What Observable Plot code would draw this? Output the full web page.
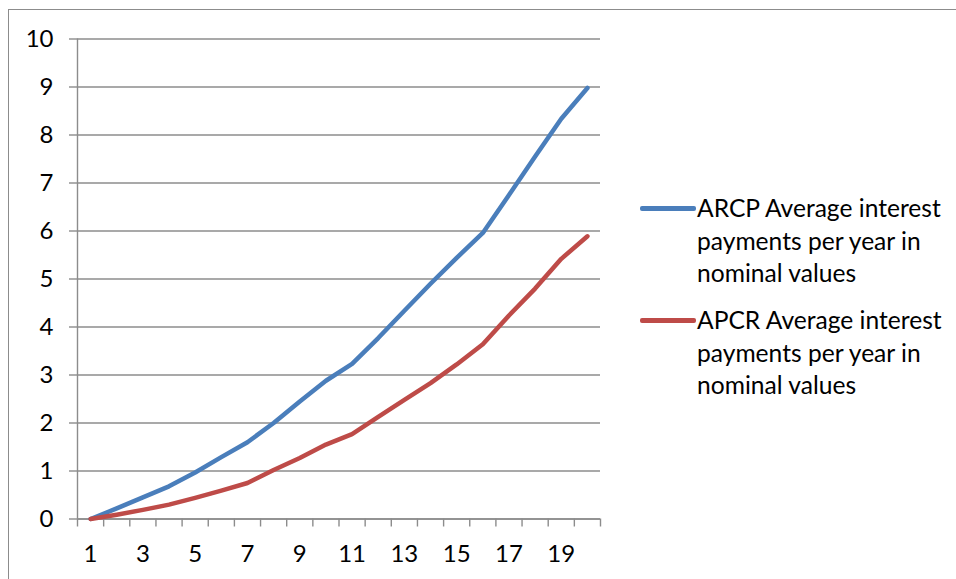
<!DOCTYPE html>
<html>
<head>
<meta charset="utf-8">
<script src="https://cdn.jsdelivr.net/npm/d3@7"></script>
<script src="https://cdn.jsdelivr.net/npm/@observablehq/plot@0.6"></script>
<style>
  html, body { margin: 0; padding: 0; background: #fff; }
  #wrap { position: relative; width: 956px; height: 579px; overflow: hidden; font-family: Lato, "Open Sans", sans-serif; }
  #frame { position: absolute; left: 8px; top: 9px; width: 1200px; height: 800px; border: 1.5px solid #8c8c8c; box-sizing: border-box; }
  #chart { position: absolute; left: 0; top: 0; }
  #legend { position: absolute; left: 640px; top: 0; font-size: 24.6px; color: #000; }
  .item { position: absolute; left: 0; width: 320px; }
  .swatch { position: absolute; left: 0; width: 56px; height: 4.5px; border-radius: 2px; }
  .label { position: absolute; left: 57px; line-height: 32.5px; white-space: nowrap; }
</style>
</head>
<body>
<div id="wrap">
  <div id="frame"></div>
  <div id="chart"></div>
  <div id="legend"></div>
</div>
<script>
// Year of the loan (category axis)
const years = [1, 2, 3, 4, 5, 6, 7, 8, 9, 10, 11, 12, 13, 14, 15, 16, 17, 18, 19, 20];
// Average interest payments per year in nominal values
const arcp = [0, 0.22, 0.45, 0.68, 0.97, 1.29, 1.6, 2.0, 2.45, 2.88, 3.23, 3.77, 4.34, 4.9, 5.44, 5.96, 6.75, 7.55, 8.34, 8.98];
const apcr = [0, 0.09, 0.19, 0.3, 0.44, 0.59, 0.75, 1.02, 1.27, 1.55, 1.77, 2.13, 2.48, 2.83, 3.22, 3.64, 4.24, 4.8, 5.42, 5.89];
const seriesNames = [
  "ARCP Average interest payments per year in nominal values",
  "APCR Average interest payments per year in nominal values"
];
const seriesColors = ["#4a7ebb", "#be4b48"];
const xTickLabels = [1, 3, 5, 7, 9, 11, 13, 15, 17, 19];
const yTicks = [0, 1, 2, 3, 4, 5, 6, 7, 8, 9, 10];
// category boundaries for the x tick marks
const xBoundaries = [0.5, 1.5, 2.5, 3.5, 4.5, 5.5, 6.5, 7.5, 8.5, 9.5, 10.5, 11.5, 12.5, 13.5, 14.5, 15.5, 16.5, 17.5, 18.5, 19.5, 20.5];

const rows = [];
years.forEach((y, i) => {
  rows.push({year: y, value: arcp[i], series: seriesNames[0]});
  rows.push({year: y, value: apcr[i], series: seriesNames[1]});
});

const grid = "#8c8c8c";
const chart = Plot.plot({
  width: 956,
  height: 579,
  marginLeft: 77,
  marginRight: 356,
  marginTop: 38.5,
  marginBottom: 60.5,
  style: {fontFamily: "Lato, 'Open Sans', sans-serif", fontSize: "24px", color: "#000", background: "transparent", overflow: "visible"},
  x: {domain: [0.5, 20.5]},
  y: {domain: [0, 10]},
  color: {domain: seriesNames, range: seriesColors},
  marks: [
    Plot.gridY(yTicks, {stroke: grid, strokeOpacity: 1, strokeWidth: 1.4}),
    Plot.axisY(yTicks, {tickSize: 8, tickPadding: 16, stroke: grid, strokeWidth: 1.4, label: null, fill: "#000"}),
    Plot.axisX(xBoundaries, {tickSize: 8, stroke: grid, strokeWidth: 1.4, tickFormat: () => "", label: null}),
    Plot.axisX(xTickLabels, {tickSize: 0, tickPadding: 26, label: null, fill: "#000"}),
    Plot.ruleY([0], {stroke: grid, strokeWidth: 1.4}),
    Plot.ruleX([0.5], {stroke: grid, strokeWidth: 1.4}),
    Plot.line(rows, {x: "year", y: "value", z: "series", stroke: "series", strokeWidth: 4.5, strokeLinejoin: "round", strokeLinecap: "round"})
  ]
});
document.getElementById("chart").appendChild(chart);

// Legend on the right
const legend = document.getElementById("legend");
const legendTops = [192, 304];
seriesNames.forEach((name, i) => {
  const item = document.createElement("div");
  item.className = "item";
  item.style.top = legendTops[i] + "px";
  const sw = document.createElement("div");
  sw.className = "swatch";
  sw.style.background = seriesColors[i];
  sw.style.top = "14px";
  const lab = document.createElement("div");
  lab.className = "label";
  lab.innerHTML = name.replace("interest ", "interest<br>").replace("in ", "in<br>");
  item.appendChild(sw);
  item.appendChild(lab);
  legend.appendChild(item);
});
</script>
</body>
</html>
